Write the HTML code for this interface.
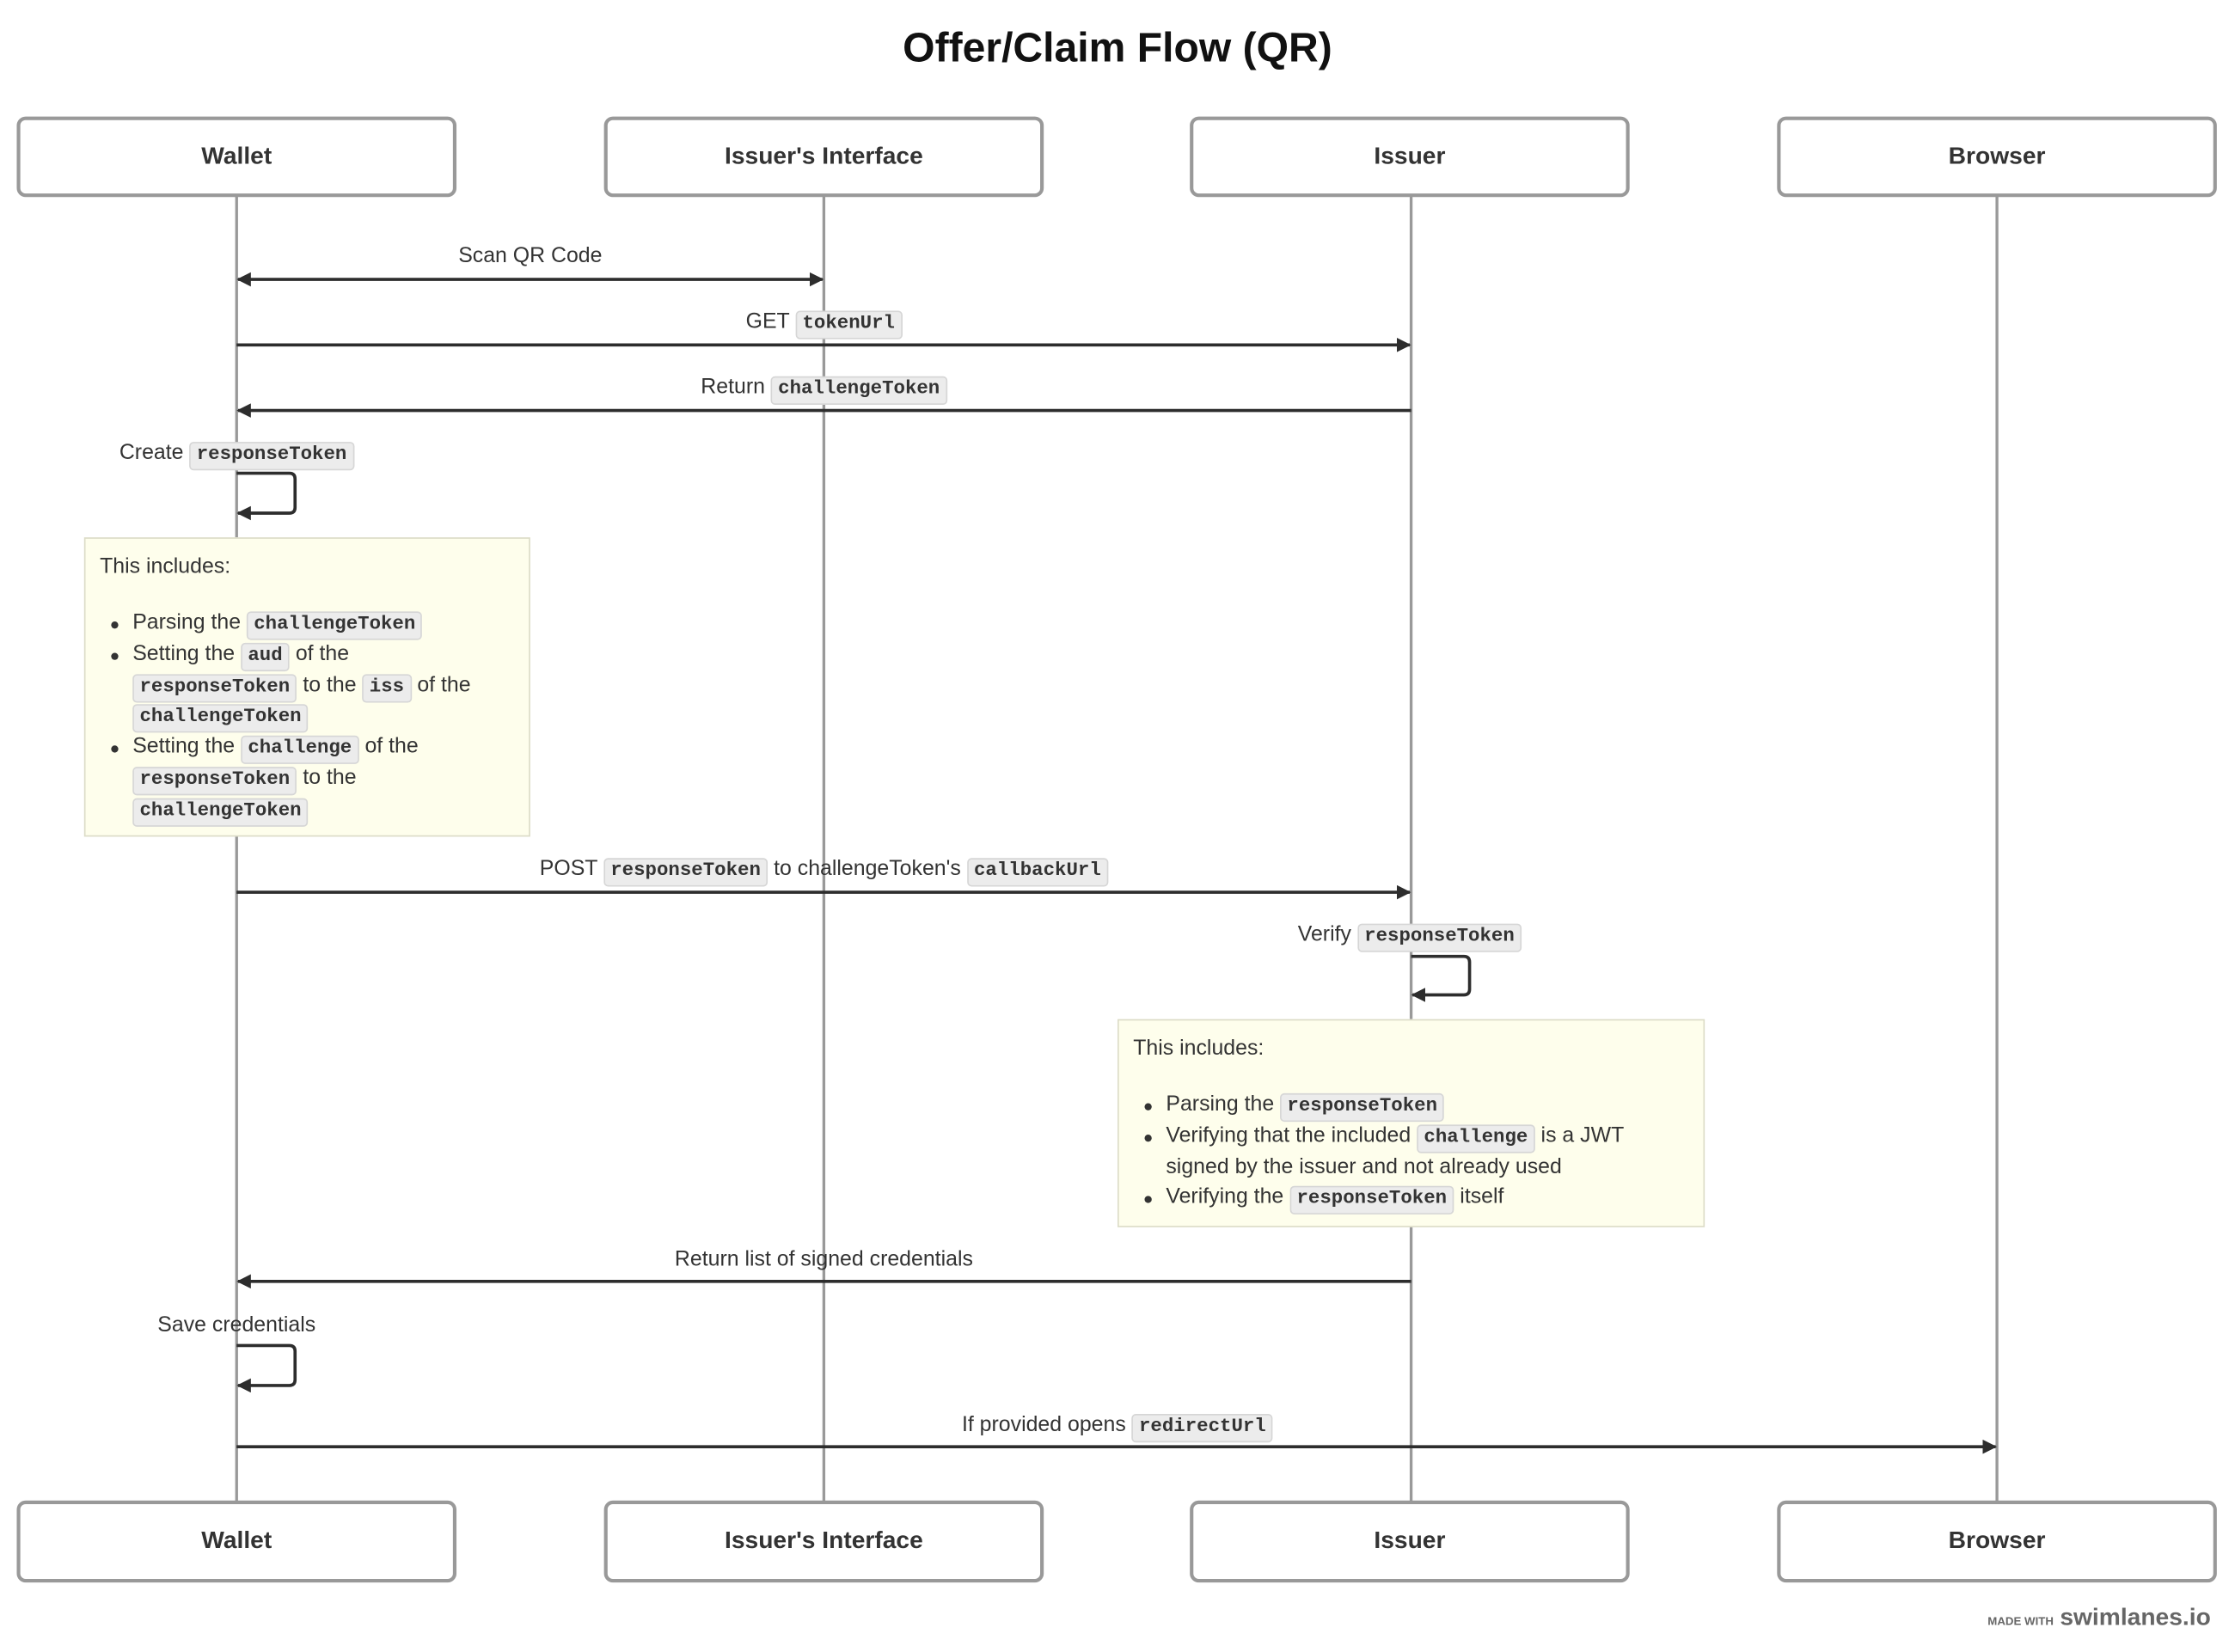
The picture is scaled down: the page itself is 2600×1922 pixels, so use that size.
<!DOCTYPE html>
<html><head><meta charset="utf-8"><style>
html,body{margin:0;padding:0;background:#fff;}
body{width:2600px;height:1922px;overflow:hidden;position:relative;}
#c{position:absolute;left:0;top:0;width:1568px;height:1159px;transform:scale(1.65816,1.65832);transform-origin:0 0;font-family:"Liberation Sans",sans-serif;color:#333;}
svg{position:absolute;left:0;top:0;}
.lbl{position:absolute;white-space:nowrap;font-size:15px;line-height:20px;transform:translateX(-50%);}
.l{position:absolute;white-space:nowrap;font-size:15px;line-height:20px;}
code{font-family:"Liberation Mono",monospace;font-weight:bold;font-size:13.5px;background:#ececec;border:1px solid #d6d6d6;border-radius:3px;padding:0 4px;line-height:18px;display:inline-block;}
.note{position:absolute;background:#fefeec;border:1px solid #dcdcc8;box-sizing:border-box;font-size:15px;}
.note .t{position:absolute;left:10px;white-space:nowrap;}
.note .ln{position:absolute;white-space:nowrap;line-height:20px;}
.note .b{position:absolute;width:5px;height:5px;border-radius:50%;background:#333;}
.box{position:absolute;font-weight:bold;font-size:17px;text-align:center;line-height:54px;}
</style></head><body><div id="c">
<svg width="1568" height="1159" viewBox="0 0 1568 1159">
<defs><marker id="a" markerWidth="10" markerHeight="10" refX="9" refY="5" orient="auto" markerUnits="userSpaceOnUse"><path d="M0,0 L10,5 L0,10 z" fill="#2d2d2d"/></marker>
<marker id="s" markerWidth="10" markerHeight="10" refX="1" refY="5" orient="auto" markerUnits="userSpaceOnUse"><path d="M10,0 L0,5 L10,10 z" fill="#2d2d2d"/></marker></defs>
<g stroke="#999" stroke-width="2">
<line x1="166" y1="137" x2="166" y2="1054"/><line x1="578" y1="137" x2="578" y2="1054"/><line x1="990" y1="137" x2="990" y2="1054"/><line x1="1401" y1="137" x2="1401" y2="1054"/>
</g>
<g fill="#fff" stroke="#999" stroke-width="2.5">
<rect x="13" y="83" width="306" height="54" rx="5"/><rect x="425" y="83" width="306" height="54" rx="5"/><rect x="836" y="83" width="306" height="54" rx="5"/><rect x="1248" y="83" width="306" height="54" rx="5"/>
<rect x="13" y="1054" width="306" height="55" rx="5"/><rect x="425" y="1054" width="306" height="55" rx="5"/><rect x="836" y="1054" width="306" height="55" rx="5"/><rect x="1248" y="1054" width="306" height="55" rx="5"/>
</g>
<g stroke="#2d2d2d" stroke-width="2.2" fill="none">
<line x1="167" y1="196" x2="577" y2="196" marker-start="url(#s)" marker-end="url(#a)"/>
<line x1="166" y1="242" x2="989" y2="242" marker-end="url(#a)"/>
<line x1="990" y1="288" x2="167" y2="288" marker-end="url(#a)"/>
<path d="M166,332 H203 Q207,332 207,336 V356 Q207,360 203,360 H167" marker-end="url(#a)"/>
<line x1="166" y1="626" x2="989" y2="626" marker-end="url(#a)"/>
<path d="M990,671 H1027 Q1031,671 1031,675 V694 Q1031,698 1027,698 H991" marker-end="url(#a)"/>
<line x1="990" y1="899" x2="167" y2="899" marker-end="url(#a)"/>
<path d="M166,944 H203 Q207,944 207,948 V968 Q207,972 203,972 H167" marker-end="url(#a)"/>
<line x1="166" y1="1015" x2="1400" y2="1015" marker-end="url(#a)"/>
</g>
</svg>
<div style="position:absolute;left:0;width:1568px;top:14px;text-align:center;font-weight:bold;font-size:29px;line-height:40px;color:#111;">Offer/Claim Flow (QR)</div>
<div class="box" style="left:13px;top:83px;width:306px;">Wallet</div>
<div class="box" style="left:425px;top:83px;width:306px;">Issuer's Interface</div>
<div class="box" style="left:836px;top:83px;width:306px;">Issuer</div>
<div class="box" style="left:1248px;top:83px;width:306px;">Browser</div>
<div class="box" style="left:13px;top:1054px;width:306px;">Wallet</div>
<div class="box" style="left:425px;top:1054px;width:306px;">Issuer's Interface</div>
<div class="box" style="left:836px;top:1054px;width:306px;">Issuer</div>
<div class="box" style="left:1248px;top:1054px;width:306px;">Browser</div>

<div class="lbl" style="left:372px;top:170px;">Scan QR Code</div>
<div class="lbl" style="left:578px;top:216px;">GET <code>tokenUrl</code></div>
<div class="lbl" style="left:578px;top:262px;">Return <code>challengeToken</code></div>
<div class="lbl" style="left:166px;top:308px;">Create <code>responseToken</code></div>
<div class="lbl" style="left:578px;top:600px;">POST <code>responseToken</code> to challengeToken's <code>callbackUrl</code></div>
<div class="lbl" style="left:989px;top:646px;">Verify <code>responseToken</code></div>
<div class="lbl" style="left:578px;top:874px;">Return list of signed credentials</div>
<div class="lbl" style="left:166px;top:920px;">Save credentials</div>
<div class="lbl" style="left:784px;top:990px;">If provided opens <code>redirectUrl</code></div>

<div class="note" style="left:59px;top:377px;width:313px;height:210px;">
<div class="t" style="top:11px;">This includes:</div>
<div class="b" style="left:18px;top:58px;"></div><div class="ln" style="left:33px;top:49px;">Parsing the <code>challengeToken</code></div>
<div class="b" style="left:18px;top:80px;"></div><div class="ln" style="left:33px;top:71px;">Setting the <code>aud</code> of the</div>
<div class="ln" style="left:33px;top:93px;"><code>responseToken</code> to the <code>iss</code> of the</div>
<div class="ln" style="left:33px;top:114px;"><code>challengeToken</code></div>
<div class="b" style="left:18px;top:145px;"></div><div class="ln" style="left:33px;top:136px;">Setting the <code>challenge</code> of the</div>
<div class="ln" style="left:33px;top:158px;"><code>responseToken</code> to the</div>
<div class="ln" style="left:33px;top:180px;"><code>challengeToken</code></div>
</div>

<div class="note" style="left:784px;top:715px;width:412px;height:146px;">
<div class="t" style="top:11px;">This includes:</div>
<div class="b" style="left:18px;top:58px;"></div><div class="ln" style="left:33px;top:49px;">Parsing the <code>responseToken</code></div>
<div class="b" style="left:18px;top:80px;"></div><div class="ln" style="left:33px;top:71px;">Verifying that the included <code>challenge</code> is a JWT</div>
<div class="ln" style="left:33px;top:93px;">signed by the issuer and not already used</div>
<div class="b" style="left:18px;top:123px;"></div><div class="ln" style="left:33px;top:114px;">Verifying the <code>responseToken</code> itself</div>
</div>

<div style="position:absolute;right:17px;top:1125px;white-space:nowrap;color:#666;">
<span style="font-size:8px;font-weight:bold;">MADE WITH</span> <span style="font-size:17px;font-weight:bold;">swimlanes.io</span></div>
</div></body></html>
